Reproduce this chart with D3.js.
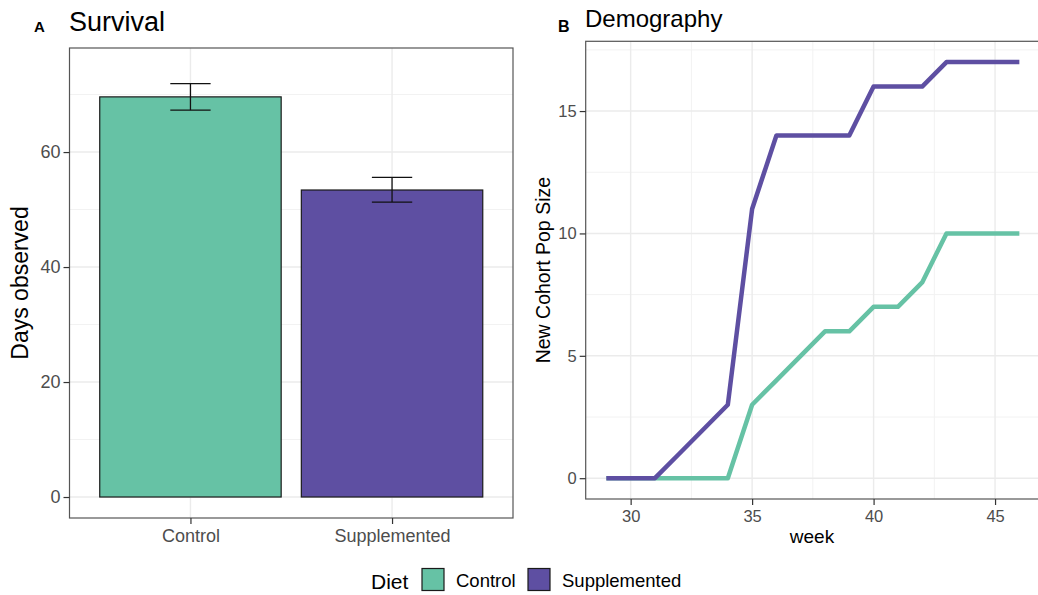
<!DOCTYPE html>
<meta charset="utf-8">
<script src="https://d3js.org/d3.v7.min.js"></script>
<style>
  body { margin: 0; background: #fff; }
  text { font-family: "Liberation Sans", Arial, Helvetica, sans-serif; }
</style>
<div id="my_dataviz"></div>
<script>

// ---- data ----
var diets = ["Control", "Supplemented"];
var dietColors = ["#66C2A5", "#5E4FA2"];
var daysMean = [69.6, 53.4];
var daysLow = [67.3, 51.3];
var daysHigh = [71.9, 55.6];
var daysTicks = [0, 20, 40, 60];

var weeks = [29, 30, 31, 32, 33, 34, 35, 36, 37, 38, 39, 40, 41, 42, 43, 44, 45, 46];
var controlPop = [0, 0, 0, 0, 0, 0, 3, 4, 5, 6, 6, 7, 7, 8, 10, 10, 10, 10];
var supplementedPop = [0, 0, 0, 1, 2, 3, 11, 14, 14, 14, 14, 16, 16, 16, 17, 17, 17, 17];
var weekTicks = [30, 35, 40, 45];
var popTicks = [0, 5, 10, 15];

var svg = d3.select("#my_dataviz")
  .append("svg")
    .attr("width", 1038)
    .attr("height", 595);

var color = d3.scaleOrdinal().domain(diets).range(dietColors);

// ================= Panel A : Survival =================
var a = {left: 69.5, right: 513, top: 48, bottom: 518};

var xA = d3.scalePoint()
  .domain(diets)
  .range([a.left, a.right])
  .padding(0.6);
var stepA = xA.step();

var yA = d3.scaleLinear()
  .domain([-3.65, 78.1])
  .range([a.bottom, a.top]);

// grid
var gA = svg.append("g");
[10, 30, 50, 70].forEach(function(v) {
  gA.append("line").attr("x1", a.left).attr("x2", a.right)
    .attr("y1", yA(v)).attr("y2", yA(v))
    .style("stroke", "#F2F2F2").style("stroke-width", 1);
});
daysTicks.forEach(function(v) {
  gA.append("line").attr("x1", a.left).attr("x2", a.right)
    .attr("y1", yA(v)).attr("y2", yA(v))
    .style("stroke", "#EBEBEB").style("stroke-width", 1.4);
});
diets.forEach(function(d) {
  gA.append("line").attr("x1", xA(d)).attr("x2", xA(d))
    .attr("y1", a.top).attr("y2", a.bottom)
    .style("stroke", "#EBEBEB").style("stroke-width", 1.4);
});

// bars
svg.append("g").selectAll("rect")
  .data(diets)
  .enter()
  .append("rect")
    .attr("x", function(d) { return xA(d) - stepA * 0.45; })
    .attr("width", stepA * 0.9)
    .attr("y", function(d, i) { return yA(daysMean[i]); })
    .attr("height", function(d, i) { return yA(0) - yA(daysMean[i]); })
    .style("fill", function(d) { return color(d); })
    .style("stroke", "#1a1a1a")
    .style("stroke-width", 1.2);

// error bars
var eb = svg.append("g").selectAll("g")
  .data(diets)
  .enter()
  .append("g")
    .style("stroke", "#111")
    .style("stroke-width", 1.3);
eb.append("line")
  .attr("x1", function(d) { return xA(d); })
  .attr("x2", function(d) { return xA(d); })
  .attr("y1", function(d, i) { return yA(daysLow[i]); })
  .attr("y2", function(d, i) { return yA(daysHigh[i]); });
eb.append("line")
  .attr("x1", function(d) { return xA(d) - stepA * 0.1; })
  .attr("x2", function(d) { return xA(d) + stepA * 0.1; })
  .attr("y1", function(d, i) { return yA(daysLow[i]); })
  .attr("y2", function(d, i) { return yA(daysLow[i]); });
eb.append("line")
  .attr("x1", function(d) { return xA(d) - stepA * 0.1; })
  .attr("x2", function(d) { return xA(d) + stepA * 0.1; })
  .attr("y1", function(d, i) { return yA(daysHigh[i]); })
  .attr("y2", function(d, i) { return yA(daysHigh[i]); });

// panel border
svg.append("rect")
  .attr("x", a.left).attr("y", a.top)
  .attr("width", a.right - a.left).attr("height", a.bottom - a.top)
  .style("fill", "none").style("stroke", "#555").style("stroke-width", 1.2);

// axes
var axA_y = svg.append("g")
  .attr("transform", "translate(" + a.left + ",0)")
  .call(d3.axisLeft(yA).tickValues(daysTicks).tickSize(6).tickPadding(3));
var axA_x = svg.append("g")
  .attr("transform", "translate(0," + a.bottom + ")")
  .call(d3.axisBottom(xA).tickSize(6).tickPadding(5));
[axA_y, axA_x].forEach(function(ax) {
  ax.select(".domain").remove();
  ax.selectAll("line").style("stroke", "#333").style("stroke-width", 1.2);
  ax.selectAll("text").style("fill", "#4D4D4D").style("font-size", "18px");
});

svg.append("text")
  .attr("transform", "translate(28," + ((a.top + a.bottom) / 2) + ") rotate(-90)")
  .attr("text-anchor", "middle")
  .style("font-size", "23px")
  .text("Days observed");

svg.append("text").attr("x", 34).attr("y", 32)
  .style("font-size", "15px").style("font-weight", "bold").text("A");
svg.append("text").attr("x", 69).attr("y", 31)
  .style("font-size", "27px").text("Survival");

// ================= Panel B : Demography =================
var b = {left: 585.7, right: 1040, top: 41.3, bottom: 499};

var xB = d3.scaleLinear()
  .domain([28.15, 46.85])
  .range([b.left, b.right]);
var yB = d3.scaleLinear()
  .domain([-0.85, 17.85])
  .range([b.bottom, b.top]);

var gB = svg.append("g");
[32.5, 37.5, 42.5].forEach(function(v) {
  gB.append("line").attr("x1", xB(v)).attr("x2", xB(v))
    .attr("y1", b.top).attr("y2", b.bottom)
    .style("stroke", "#F2F2F2").style("stroke-width", 1);
});
[2.5, 7.5, 12.5, 17.5].forEach(function(v) {
  gB.append("line").attr("x1", b.left).attr("x2", b.right)
    .attr("y1", yB(v)).attr("y2", yB(v))
    .style("stroke", "#F2F2F2").style("stroke-width", 1);
});
weekTicks.forEach(function(v) {
  gB.append("line").attr("x1", xB(v)).attr("x2", xB(v))
    .attr("y1", b.top).attr("y2", b.bottom)
    .style("stroke", "#EBEBEB").style("stroke-width", 1.4);
});
popTicks.forEach(function(v) {
  gB.append("line").attr("x1", b.left).attr("x2", b.right)
    .attr("y1", yB(v)).attr("y2", yB(v))
    .style("stroke", "#EBEBEB").style("stroke-width", 1.4);
});

var lineGen = d3.line()
  .x(function(d) { return xB(d[0]); })
  .y(function(d) { return yB(d[1]); });

var series = [controlPop, supplementedPop];
series.forEach(function(vals, i) {
  svg.append("path")
    .datum(weeks.map(function(w, j) { return [w, vals[j]]; }))
    .attr("d", lineGen)
    .style("fill", "none")
    .style("stroke", dietColors[i])
    .style("stroke-width", 4.5)
    .style("stroke-linejoin", "round");
});

svg.append("rect")
  .attr("x", b.left).attr("y", b.top)
  .attr("width", b.right - b.left).attr("height", b.bottom - b.top)
  .style("fill", "none").style("stroke", "#555").style("stroke-width", 1.2);

var axB_y = svg.append("g")
  .attr("transform", "translate(" + b.left + ",0)")
  .call(d3.axisLeft(yB).tickValues(popTicks).tickSize(6).tickPadding(3));
var axB_x = svg.append("g")
  .attr("transform", "translate(0," + b.bottom + ")")
  .call(d3.axisBottom(xB).tickValues(weekTicks).tickSize(6).tickPadding(5));
[axB_y, axB_x].forEach(function(ax) {
  ax.select(".domain").remove();
  ax.selectAll("line").style("stroke", "#333").style("stroke-width", 1.2);
  ax.selectAll("text").style("fill", "#4D4D4D").style("font-size", "16.5px");
});

svg.append("text")
  .attr("transform", "translate(550," + ((b.top + b.bottom) / 2) + ") rotate(-90)")
  .attr("text-anchor", "middle")
  .style("font-size", "19.5px")
  .text("New Cohort Pop Size");
svg.append("text")
  .attr("x", 812).attr("y", 543)
  .attr("text-anchor", "middle")
  .style("font-size", "19px")
  .text("week");

svg.append("text").attr("x", 558).attr("y", 32)
  .style("font-size", "16px").style("font-weight", "bold").text("B");
svg.append("text").attr("x", 585).attr("y", 27)
  .style("font-size", "24px").text("Demography");

// ================= Legend =================
var leg = svg.append("g");
leg.append("text").attr("x", 371).attr("y", 589)
  .style("font-size", "21px").text("Diet");
var legX = [422, 528];
diets.forEach(function(d, i) {
  leg.append("rect")
    .attr("x", legX[i]).attr("y", 568.5)
    .attr("width", 22).attr("height", 22)
    .style("fill", color(d))
    .style("stroke", "#1a1a1a").style("stroke-width", 1.2);
  leg.append("text")
    .attr("x", legX[i] + 34).attr("y", 587)
    .style("font-size", "18.5px")
    .text(d);
});

</script>
